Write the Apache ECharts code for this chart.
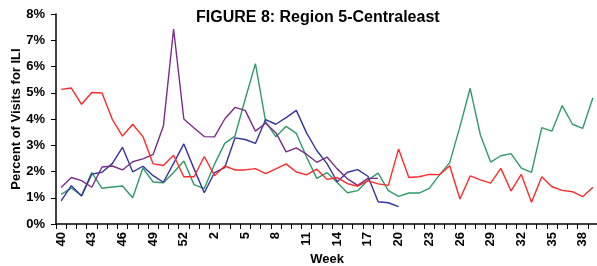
<!DOCTYPE html>
<html>
<head>
<meta charset="utf-8">
<script src="https://cdn.jsdelivr.net/npm/echarts@6/dist/echarts.min.js"></script>
<style>html,body{margin:0;padding:0;background:#fff;}#c{width:597px;height:266px;}</style>
</head>
<body>
<div id="c"></div>
<script>
const weeks = ['40','41','42','43','44','45','46','47','48','49','50','51','52','53',
  '1','2','3','4','5','6','7','8','9','10','11','12','13','14','15','16','17','18','19','20',
  '21','22','23','24','25','26','27','28','29','30','31','32','33','34','35','36','37','38','39'];

const redSeries = [5.13,5.18,4.56,5.01,4.99,3.99,3.35,3.80,3.33,2.29,2.23,2.62,1.80,1.80,
  2.57,1.84,2.21,2.06,2.06,2.11,1.92,2.10,2.29,1.98,1.87,2.09,1.70,1.77,1.54,1.44,1.64,1.53,1.47,2.86,
  1.77,1.80,1.89,1.88,2.22,0.95,1.83,1.68,1.56,2.12,1.26,1.89,0.83,1.80,1.42,1.28,1.23,1.04,1.40];

const purpleSeries = [1.39,1.77,1.65,1.40,2.17,2.21,2.06,2.37,2.48,2.65,3.73,7.43,4.00,3.66,
  3.33,3.32,4.00,4.44,4.33,3.54,3.84,3.48,2.75,2.90,2.66,2.35,2.55,2.10,1.72,1.47,1.74,1.74,null,null,
  null,null,null,null,null,null,null,null,null,null,null,null,null,null,null,null,null,null,null];

const blueSeries = [0.88,1.46,1.07,1.90,1.97,2.30,2.92,1.99,2.20,1.84,1.59,2.31,3.05,2.10,
  1.19,1.96,2.15,3.28,3.22,3.07,3.98,3.80,4.05,4.33,3.47,2.80,2.30,1.61,1.97,2.07,1.82,0.85,0.81,0.66,
  null,null,null,null,null,null,null,null,null,null,null,null,null,null,null,null,null,null,null];

const greenSeries = [1.13,1.37,1.08,1.96,1.36,1.41,1.45,1.00,2.13,1.60,1.57,1.96,2.40,1.50,
  1.35,2.28,3.07,3.35,4.75,6.11,3.90,3.32,3.72,3.45,2.55,1.74,1.96,1.58,1.19,1.27,1.67,1.94,1.27,1.05,
  1.18,1.18,1.36,1.87,2.34,3.71,5.17,3.39,2.36,2.60,2.68,2.13,1.97,3.67,3.54,4.51,3.80,3.64,4.81];

const yTicks = [0,1,2,3,4,5,6,7,8];

const FONT = '"Liberation Sans", Arial, sans-serif';
const chart = echarts.init(document.getElementById('c'), null, {renderer: 'canvas'});

function mk(name, data, color) {
  return {
    name: name, type: 'line', data: data, symbol: 'none', connectNulls: false,
    lineStyle: {color: color, width: 1.4}, itemStyle: {color: color}, animation: false
  };
}

chart.setOption({
  animation: false,
  backgroundColor: '#ffffff',
  title: {
    text: 'FIGURE 8: Region 5-Centraleast',
    left: 191, top: 5,
    textStyle: {fontFamily: FONT, fontWeight: 'bold', fontSize: 16, color: '#000'}
  },
  grid: {left: 56, top: 14, width: 542, bottom: 42, containLabel: false, outerBoundsMode: 'none'},
  xAxis: {
    type: 'category', data: weeks, boundaryGap: true,
    name: 'Week', nameLocation: 'middle', nameGap: 29, nameMoveOverlap: false,
    nameTextStyle: {fontFamily: FONT, fontWeight: 'bold', fontSize: 13, color: '#000'},
    axisLine: {lineStyle: {color: '#000', width: 1.5}},
    axisTick: {show: true, interval: 0, length: 5, alignWithLabel: false, lineStyle: {color: '#000', width: 1}},
    axisLabel: {interval: 2, rotate: 90, margin: 8, fontFamily: FONT, fontWeight: 'bold', fontSize: 13, color: '#000'},
    splitLine: {show: false}
  },
  yAxis: {
    type: 'value', min: yTicks[0], max: yTicks[yTicks.length - 1], interval: 1,
    name: 'Percent of Visits for ILI', nameLocation: 'middle', nameGap: 33, nameRotate: 90, nameMoveOverlap: false,
    nameTextStyle: {fontFamily: FONT, fontWeight: 'bold', fontSize: 13, color: '#000'},
    axisLine: {show: true, lineStyle: {color: '#000', width: 1.5}},
    axisTick: {show: true, length: 5, lineStyle: {color: '#000', width: 1}},
    axisLabel: {formatter: '{value}%', margin: 11, fontFamily: FONT, fontWeight: 'bold', fontSize: 13, color: '#000'},
    splitLine: {show: false}
  },
  series: [
    mk('Green', greenSeries, '#2E9B68'),
    mk('Blue', blueSeries, '#3434A0'),
    mk('Purple', purpleSeries, '#7B2C89'),
    mk('Red', redSeries, '#FF2A2A')
  ]
});
</script>
</body>
</html>
